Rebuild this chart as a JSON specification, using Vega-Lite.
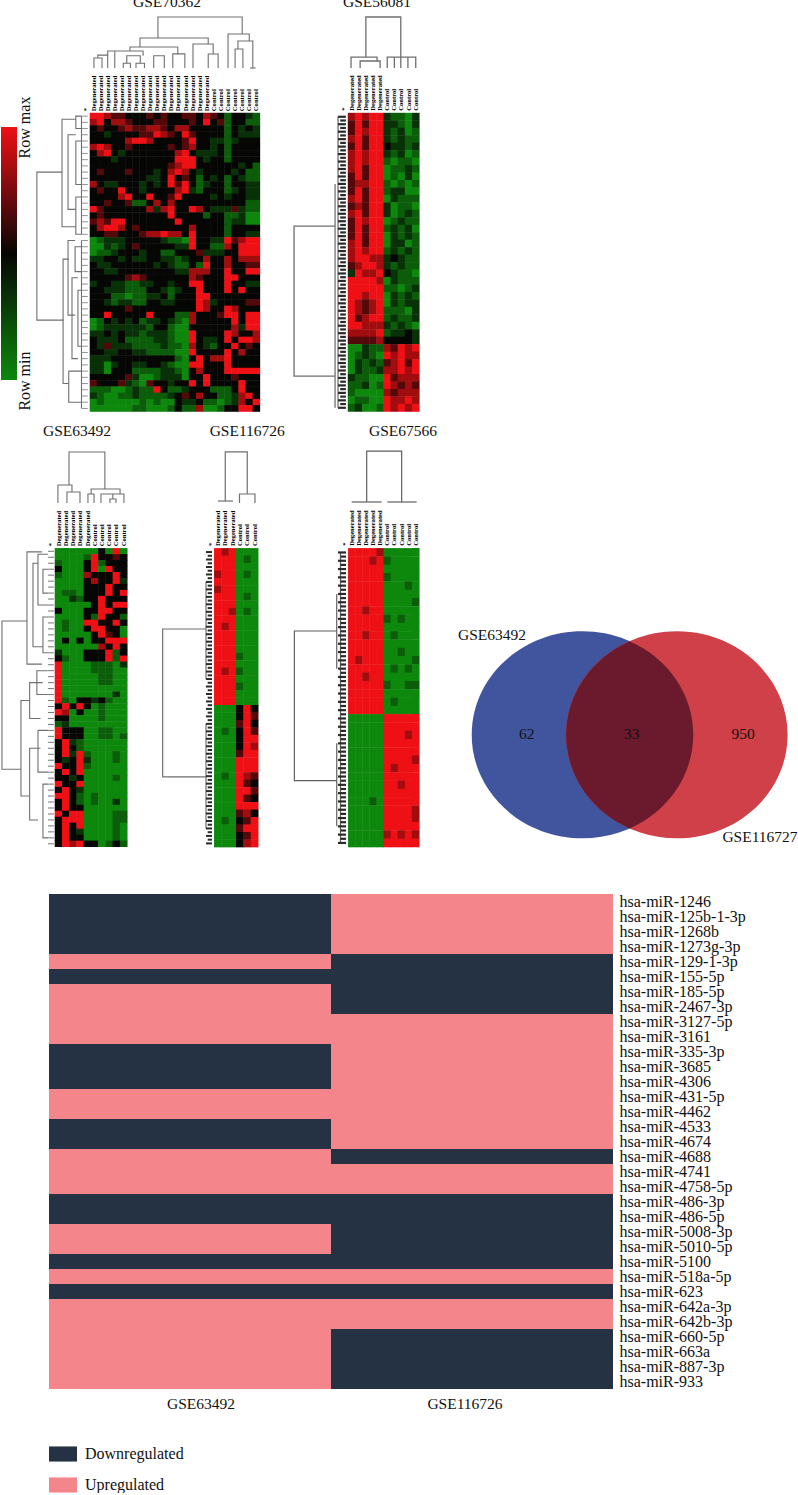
{"$schema":"https://vega.github.io/schema/vega-lite/v6.json","padding":{"left":-1,"top":-1,"right":0,"bottom":0},"background":"white","spacing":0,"resolve":{"scale":{"color":"independent"}},"config":{"view":{"stroke":null}},
"vconcat":[
{"hconcat":[
{"width":280,"height":420,
"encoding":{"x":{"field":"x","type":"quantitative","axis":null,"scale":{"domain":[-12.21,27.34],"nice":false,"zero":false}},"y":{"field":"y","type":"quantitative","axis":null,"scale":{"domain":[-17.83,49.7],"nice":false,"zero":false,"reverse":true}}},
"layer":[
{"data":{"values":[
{"y":1,"v":[6,6,5,4,4,3,3,3,4,3,4,3,3,4,4,3,5,4,3,1,3,3,2,1]},
{"y":2,"v":[5,6,3,5,5,4,3,3,3,4,4,3,3,3,4,3,6,3,4,1,3,3,1,1]},
{"y":3,"v":[3,4,3,3,4,5,4,4,5,5,4,3,5,5,3,3,3,3,3,1,3,2,3,2]},
{"y":4,"v":[3,3,2,3,3,3,3,4,4,6,5,4,3,6,4,3,3,3,3,1,3,2,2,2]},
{"y":5,"v":[3,3,3,3,3,5,6,6,5,3,3,3,3,4,6,3,3,2,2,1,2,3,3,3]},
{"y":6,"v":[5,6,5,3,3,4,3,3,3,3,3,4,3,4,5,3,3,2,3,1,3,3,3,3]},
{"y":7,"v":[3,5,6,3,2,3,3,3,3,3,3,3,5,6,3,2,2,2,3,1,3,3,3,3]},
{"y":8,"v":[3,3,3,2,3,3,3,3,3,3,3,3,6,6,6,3,2,3,3,1,3,3,3,3]},
{"y":9,"v":[3,3,3,3,3,3,3,3,3,3,3,4,5,6,6,3,3,3,3,3,3,2,3,1]},
{"y":10,"v":[3,4,3,3,3,4,3,3,3,2,3,5,6,5,3,2,3,3,3,3,2,3,1,1]},
{"y":11,"v":[3,3,3,3,3,3,3,3,2,2,3,6,3,4,3,1,3,2,3,1,3,2,1,1]},
{"y":12,"v":[5,3,2,2,3,3,3,2,3,2,3,6,4,6,3,1,2,3,3,1,3,3,2,2]},
{"y":13,"v":[3,4,3,3,6,3,3,2,3,3,3,3,5,6,2,1,3,3,3,1,2,3,2,2]},
{"y":14,"v":[3,3,3,3,5,6,3,3,6,3,3,4,6,3,3,3,3,2,3,2,3,3,2,2]},
{"y":15,"v":[3,3,4,3,3,4,1,1,3,5,3,5,3,3,3,3,3,3,3,3,3,3,1,1]},
{"y":16,"v":[6,4,3,3,3,3,3,3,5,2,5,6,3,3,6,5,3,2,2,2,4,2,1,1]},
{"y":17,"v":[3,4,3,3,3,3,3,3,3,3,3,6,3,3,3,3,1,3,3,1,1,2,0,0]},
{"y":18,"v":[4,5,4,6,6,3,3,3,3,3,3,3,6,3,3,3,3,3,3,1,2,2,0,0]},
{"y":19,"v":[3,5,6,6,5,3,4,3,3,3,3,3,3,3,5,3,3,3,3,1,3,3,3,3]},
{"y":20,"v":[3,3,4,4,3,3,3,4,5,5,6,5,5,3,6,3,3,3,3,1,3,3,2,2]},
{"y":21,"v":[0,1,2,2,2,3,3,3,3,3,2,1,1,0,6,3,3,2,2,6,4,5,6,6]},
{"y":22,"v":[0,0,2,1,2,3,4,3,3,3,3,3,2,2,6,3,3,1,1,5,3,6,6,6]},
{"y":23,"v":[0,1,1,2,3,3,3,2,3,3,1,1,3,3,3,4,2,2,2,3,3,6,6,6]},
{"y":24,"v":[2,2,3,3,2,3,2,2,3,3,2,2,1,2,3,3,5,3,3,5,3,5,5,5]},
{"y":25,"v":[3,2,2,3,3,3,3,3,3,2,3,2,1,1,3,1,6,3,3,5,3,3,4,4]},
{"y":26,"v":[3,3,2,2,3,3,3,3,3,3,3,3,2,2,5,5,5,3,3,6,3,3,6,6]},
{"y":27,"v":[3,3,3,3,3,4,5,4,3,3,3,3,3,3,5,4,3,3,3,6,6,3,3,3]},
{"y":28,"v":[2,3,3,2,2,1,1,2,2,3,3,2,3,3,6,6,3,3,3,6,3,3,2,2]},
{"y":29,"v":[3,3,2,2,2,1,1,1,3,3,2,1,2,3,3,6,3,3,3,6,3,6,3,3]},
{"y":30,"v":[3,3,3,1,1,0,1,1,2,2,3,1,3,3,3,6,6,3,3,3,3,3,3,3]},
{"y":31,"v":[3,3,2,1,2,2,1,1,3,3,2,2,3,3,3,6,5,2,3,3,3,3,4,4]},
{"y":32,"v":[3,3,3,3,3,4,3,3,3,3,3,3,3,3,3,6,5,3,3,6,5,3,3,3]},
{"y":33,"v":[3,3,6,3,3,3,3,3,6,3,3,3,1,1,5,3,3,3,4,6,6,3,6,6]},
{"y":34,"v":[0,1,3,2,3,2,3,1,2,2,3,2,1,0,5,3,3,3,3,3,6,3,6,6]},
{"y":35,"v":[0,1,2,2,2,2,2,2,1,3,3,1,0,0,3,3,3,3,3,3,5,2,6,6]},
{"y":36,"v":[2,2,3,2,3,2,2,1,2,2,2,1,0,0,6,3,3,3,3,6,5,3,3,5]},
{"y":37,"v":[3,2,2,2,3,1,1,1,1,2,2,1,0,0,6,3,2,2,3,6,3,6,6,5]},
{"y":38,"v":[3,2,4,2,2,2,1,1,1,1,2,1,1,0,5,3,2,1,3,3,6,3,4,3]},
{"y":39,"v":[3,3,2,2,3,3,2,2,1,1,1,1,0,0,6,3,3,3,3,6,3,5,3,3]},
{"y":40,"v":[2,2,2,3,3,3,3,3,3,3,3,3,1,0,3,6,3,5,5,6,3,3,3,3]},
{"y":41,"v":[2,2,0,2,3,3,2,2,3,3,2,1,0,0,6,6,3,3,3,6,3,3,3,3]},
{"y":42,"v":[2,2,0,3,3,3,1,1,1,1,2,2,1,0,3,5,3,3,3,6,6,6,6,6]},
{"y":43,"v":[3,3,3,3,3,4,2,0,0,1,2,2,2,0,3,3,6,3,3,3,4,3,3,3]},
{"y":44,"v":[4,3,3,3,4,2,1,0,4,3,3,2,3,3,6,3,6,3,3,3,3,6,3,3]},
{"y":45,"v":[1,1,1,0,0,1,2,1,1,6,3,1,1,2,3,3,3,1,1,1,3,6,3,3]},
{"y":46,"v":[2,1,0,0,1,1,2,1,1,1,1,2,3,4,3,5,3,3,1,1,2,5,6,3]},
{"y":47,"v":[0,1,0,0,0,0,0,1,0,1,0,0,3,2,2,3,1,1,0,1,2,5,3,6]},
{"y":48,"v":[0,0,0,0,0,0,1,1,0,0,0,1,3,1,1,5,0,0,1,3,3,6,6,3]}
]},"transform":[{"flatten":["v"]},{"window":[{"op":"row_number","as":"x"}],"groupby":["y"]}],
"mark":{"type":"rect","width":7.6,"height":6.7},
"encoding":{"color":{"field":"v","type":"quantitative","scale":{"domain":[0,3,6],"range":["#0d880d","#060604","#ee1015"],"interpolate":"rgb"},"legend":{"orient":"none","legendX":1,"legendY":128,"gradientLength":253,"gradientThickness":16,"values":[0,6],"labelOpacity":0,"labelFontSize":1,"tickOpacity":0,"title":null,"gradientStrokeWidth":0}}}},
{"data":{"values":[
{"d":1,"x":[10.1,10.1,22,22],"y":[-11.56,-14.93,-14.93,-12.2]},
{"d":2,"x":[7.56,7.56,17.2,17.2],"y":[-10.11,-11.56,-11.56,-10.6]},
{"d":3,"x":[15.05,15.05,17.9,17.9],"y":[-6.73,-10.6,-10.6,-8.99]},
{"d":4,"x":[17.2,17.2,18.6,18.6],"y":[-6.73,-8.99,-8.99,-6.73]},
{"d":5,"x":[6.15,6.15,12.9,12.9],"y":[-9.47,-10.11,-10.11,-9]},
{"d":6,"x":[12.2,12.2,13.9,13.9],"y":[-6.73,-9,-9,-6.73]},
{"d":7,"x":[3,3,8,8],"y":[-8.8,-9.47,-9.47,-8.7]},
{"d":8,"x":[1.06,1.06,2.2,2.2],"y":[-6.73,-8.34,-8.34,-6.73]},
{"d":9,"x":[1.6,1.6,3,3],"y":[-8.34,-8.8,-8.8,-6.73]},
{"d":10,"x":[4,4],"y":[-9.47,-6.73]},
{"d":11,"x":[5.2,5.2,6.2,6.2],"y":[-6.73,-7.5,-7.5,-6.73]},
{"d":12,"x":[7,7,8.2,8.2],"y":[-6.73,-7.5,-7.5,-6.73]},
{"d":13,"x":[5.7,5.7,7.6,7.6],"y":[-7.5,-8.7,-8.7,-7.5]},
{"d":14,"x":[9.5,9.5,11,11],"y":[-6.73,-8.7,-8.7,-6.73]},
{"d":15,"x":[20,20,23,23],"y":[-6.73,-12.2,-12.2,-11.08]},
{"d":16,"x":[21.4,21.4,23.5,23.5],"y":[-9.79,-11.08,-11.08,-6.73]},
{"d":17,"x":[21,21,22.1,22.1],"y":[-6.73,-9.79,-9.79,-6.73]},
{"d":18,"x":[23.1,23.9],"y":[-6.73,-6.73]},
{"d":20,"x":[-3.45,-7,-7,-3.2],"y":[10,10,33.8,33.8]},
{"d":21,"x":[-1.5,-3.45,-3.45,-1.5],"y":[1.5,1.5,18.8,18.8]},
{"d":22,"x":[-1.5,-2.6,-2.6,-1.5],"y":[4,4,16,16]},
{"d":23,"x":[-0.7,-1.5,-1.5,-0.7],"y":[1,1,3,3]},
{"d":24,"x":[-0.7,-1.5,-1.5,-0.7],"y":[5,5,12,12]},
{"d":25,"x":[-0.7,-1.5,-1.5,-0.7],"y":[14,14,20,20]},
{"d":26,"x":[-2.5,-3.3,-3.3,-2.5],"y":[24,24,44,44]},
{"d":27,"x":[-1.6,-2.6,-2.6,-1.6],"y":[21,21,33,33]},
{"d":28,"x":[-1.2,-2.04,-2.04,-1.2],"y":[27,27,40,40]},
{"d":29,"x":[-0.7,-1.6,-1.6,-0.7],"y":[22,22,26,26]},
{"d":30,"x":[-0.7,-1.2,-1.2,-0.7],"y":[29,29,38,38]},
{"d":31,"x":[-0.7,-2.5,-2.5,-0.7],"y":[42,42,47,47]},
{"d":32,"x":[-0.7,-0.7],"y":[1,20]},
{"d":33,"x":[-0.7,-0.7],"y":[21,48]}
]},"transform":[{"flatten":["x","y"]}],"mark":{"type":"line","stroke":"#6f6f6f","strokeWidth":1.1},"encoding":{"detail":{"field":"d"},"order":{"value":null}}},
{"data":{"values":[{"x":-0.7,"x2":0.2,"y":[1,2,3,4,5,6,7,8,9,10,11,12,13,14,15,16,17,18,19,20,21,22,23,24,25,26,27,28,29,30,31,32,33,34,35,36,37,38,39,40,41,42,43,44,45,46,47,48]}]},"transform":[{"flatten":["y"]}],"mark":{"type":"rule","stroke":"#777","strokeWidth":0.8},"encoding":{"x2":{"field":"x2"}}},
{"data":{"values":[{"t":"Degenerated","y":0.2,"x":[1,2,3,4,5,6,7,8,9,10,11,12,13,14,15,16,17]},{"t":"Control","y":0.2,"x":[18,19,20,21,22,23,24]},{"t":"*","y":0.2,"x":[0]}]},"transform":[{"flatten":["x"]}],"mark":{"type":"text","angle":270,"align":"left","baseline":"middle","font":"Liberation Serif","fontWeight":"bold","fontSize":6.6,"color":"#000"},"encoding":{"text":{"field":"t"}}},
{"data":{"values":[{"t":"GSE70362","x":11.38,"y":-17.35}]},"mark":{"type":"text","clip":true,"font":"Liberation Serif","fontSize":15.5,"color":"#111"},"encoding":{"text":{"field":"t"}}},
{"data":{"values":[{"t":"Row max","x":-8.68,"y":2.83},{"t":"Row min","x":-8.68,"y":43.6}]},"mark":{"type":"text","angle":270,"font":"Liberation Serif","fontSize":16,"color":"#111"},"encoding":{"text":{"field":"t"}}}
]},
{"width":160,"height":420,
"encoding":{"x":{"field":"x","type":"quantitative","axis":null,"scale":{"domain":[-9.04,13.4],"nice":false,"zero":false}},"y":{"field":"y","type":"quantitative","axis":null,"scale":{"domain":[-14.78,41.5],"nice":false,"zero":false,"reverse":true}}},
"layer":[
{"data":{"values":[
{"y":1,"v":[5,6,5,6,6,2,1,1,0,2]},{"y":2,"v":[4,6,4,6,6,2,2,1,0,2]},{"y":3,"v":[4,6,5,6,6,2,1,2,0,1]},{"y":4,"v":[5,6,4,6,6,2,1,2,1,1]},{"y":5,"v":[4,6,4,6,6,3,2,2,1,2]},
{"y":6,"v":[5,6,5,6,6,2,1,2,0,1]},{"y":7,"v":[5,6,5,6,6,1,0,1,1,0]},{"y":8,"v":[5,6,4,6,6,0,1,1,2,1]},{"y":9,"v":[4,6,4,6,6,0,1,0,2,0]},{"y":10,"v":[4,5,5,6,6,1,0,1,0,1]},
{"y":11,"v":[4,6,4,6,6,1,2,2,0,0]},{"y":12,"v":[5,6,4,6,6,0,2,1,1,1]},{"y":13,"v":[4,5,4,6,6,2,0,1,1,0]},{"y":14,"v":[5,6,4,6,6,2,0,1,2,1]},{"y":15,"v":[4,6,5,6,6,0,1,2,1,1]},
{"y":16,"v":[4,6,4,6,6,1,2,1,2,0]},{"y":17,"v":[4,6,4,6,6,0,2,1,2,1]},{"y":18,"v":[5,6,4,6,6,0,2,2,0,1]},{"y":19,"v":[5,6,5,6,6,1,2,1,2,1]},{"y":20,"v":[5,6,6,5,5,2,3,2,1,1]},
{"y":21,"v":[4,5,6,6,5,2,1,2,1,1]},{"y":22,"v":[2,6,5,5,6,3,2,1,1,0]},{"y":23,"v":[6,6,6,6,5,0,2,1,1,1]},{"y":24,"v":[6,6,6,6,6,1,1,0,1,2]},{"y":25,"v":[6,6,5,6,6,0,2,1,2,1]},
{"y":26,"v":[6,5,4,5,6,0,2,1,2,2]},{"y":27,"v":[6,5,4,5,6,1,1,1,0,2]},{"y":28,"v":[6,4,5,6,6,1,2,1,1,2]},{"y":29,"v":[6,6,5,5,5,2,1,2,1,0]},{"y":30,"v":[5,5,5,5,6,1,2,2,3,2]},
{"y":31,"v":[4,4,4,4,5,3,3,3,3,2]},{"y":32,"v":[0,0,2,1,1,5,4,6,5,6]},{"y":33,"v":[0,1,2,1,0,6,5,6,5,5]},{"y":34,"v":[0,2,1,2,1,4,5,6,4,6]},{"y":35,"v":[0,2,1,1,2,5,5,6,5,6]},
{"y":36,"v":[2,1,1,0,0,6,4,5,5,5]},{"y":37,"v":[1,1,2,0,1,6,5,4,5,4]},{"y":38,"v":[1,0,0,0,0,5,4,5,5,5]},{"y":39,"v":[0,1,1,0,0,6,5,5,6,5]},{"y":40,"v":[1,2,0,0,1,6,5,6,5,6]}
]},"transform":[{"flatten":["v"]},{"window":[{"op":"row_number","as":"x"}],"groupby":["y"]}],
"mark":{"type":"rect","width":7.6,"height":7.9},
"encoding":{"color":{"field":"v","type":"quantitative","scale":{"domain":[0,3,6],"range":["#0d880d","#060604","#ee1015"],"interpolate":"rgb"},"legend":null}}},
{"data":{"values":[
{"d":1,"x":[3,3,7.9,7.9],"y":[-7,-12.37,-12.37,-7]},
{"d":2,"x":[0.92,0.92,4.57,4.57],"y":[-5.53,-7,-7,-6.47]},
{"d":3,"x":[2.2,2.2,5,5],"y":[-5.53,-6.47,-6.47,-5.53]},
{"d":4,"x":[6,6,10,10],"y":[-5.53,-7,-7,-5.53]},
{"d":5,"x":[7,7],"y":[-7,-5.53]},{"d":6,"x":[7.9,7.9],"y":[-7,-5.53]},{"d":7,"x":[8.9,8.9],"y":[-7,-5.53]},
{"d":10,"x":[-1.32,-7.07,-7.07,-1.32],"y":[15.65,15.65,35.75,35.75]},
{"d":11,"x":[-1.32,-1.32],"y":[10,40]},{"d":12,"x":[-0.9,-0.9],"y":[1,40]}
]},"transform":[{"flatten":["x","y"]}],"mark":{"type":"line","stroke":"#6f6f6f","strokeWidth":1.3},"encoding":{"detail":{"field":"d"},"order":{"value":null}}},
{"data":{"values":[{"x":-0.9,"x2":0.2,"y":[1,2,3,4,5,6,7,8,9,10,11,12,13,14,15,16,17,18,19,20,21,22,23,24,25,26,27,28,29,30,31,32,33,34,35,36,37,38,39,40]},{"x":-0.6,"x2":0.2,"y":[1.5,2.5,3.5,4.5,5.5,6.5,7.5,8.5,9.5,10.5,11.5,12.5,13.5,14.5,15.5,16.5,17.5,18.5,19.5,20.5,21.5,22.5,23.5,24.5,25.5,26.5,27.5,28.5,29.5,30.5,31.5,32.5,33.5,34.5,35.5,36.5,37.5,38.5,39.5]}]},"transform":[{"flatten":["y"]}],"mark":{"type":"rule","stroke":"#2a2a2a","strokeWidth":2.2},"encoding":{"x2":{"field":"x2"}}},
{"data":{"values":[{"t":"Degenerated","y":0.2,"x":[1,2,3,4,5]},{"t":"Control","y":0.2,"x":[6,7,8,9,10]},{"t":"*","y":0.2,"x":[0]}]},"transform":[{"flatten":["x"]}],"mark":{"type":"text","angle":270,"align":"left","baseline":"middle","font":"Liberation Serif","fontWeight":"bold","fontSize":6.6,"color":"#000"},"encoding":{"text":{"field":"t"}}},
{"data":{"values":[{"t":"GSE56081","x":4.57,"y":-14.38}]},"mark":{"type":"text","clip":true,"font":"Liberation Serif","fontSize":15.5,"color":"#111"},"encoding":{"text":{"field":"t"}}}
]}
],"spacing":0,"bounds":"flush","resolve":{"scale":{"color":"independent"}}},
{"hconcat":[
{"width":150,"height":474,
"encoding":{"x":{"field":"x","type":"quantitative","axis":null,"scale":{"domain":[-7.1,13.64],"nice":false,"zero":false}},"y":{"field":"y","type":"quantitative","axis":null,"scale":{"domain":[-21.16,58.24],"nice":false,"zero":false,"reverse":true}}},
"layer":[
{"data":{"values":[
{"y":1,"v":[0,0,0,0,0,0,3,0,6,0]},{"y":2,"v":[0,0,0,0,1,6,3,3,4,3]},{"y":3,"v":[1,0,0,0,3,6,1,3,3,3]},{"y":4,"v":[3,0,0,0,3,6,0,6,3,3]},{"y":5,"v":[1,0,0,0,5,3,3,3,6,3]},
{"y":6,"v":[0,0,0,0,3,5,3,3,6,2]},{"y":7,"v":[0,0,0,0,3,3,3,6,3,3]},{"y":8,"v":[0,1,1,0,3,3,3,6,3,6]},{"y":9,"v":[0,0,2,1,3,3,6,3,3,3]},{"y":10,"v":[0,0,0,0,0,3,6,3,6,6]},
{"y":11,"v":[3,0,0,0,3,3,6,6,3,3]},{"y":12,"v":[0,0,0,0,3,1,6,3,3,1]},{"y":13,"v":[0,1,0,0,6,6,3,3,6,3]},{"y":14,"v":[0,1,0,0,3,6,6,3,3,0]},{"y":15,"v":[0,0,0,0,0,3,6,4,3,0]},
{"y":16,"v":[0,3,0,3,0,3,3,6,6,6]},{"y":17,"v":[0,0,0,0,0,0,5,3,6,3]},{"y":18,"v":[2,0,0,0,3,3,3,6,1,3]},{"y":19,"v":[3,1,0,0,3,3,3,6,1,6]},{"y":20,"v":[6,0,0,0,0,1,1,1,0,2]},
{"y":21,"v":[6,0,0,0,0,1,1,1,0,0]},{"y":22,"v":[6,0,0,0,0,0,1,1,0,0]},{"y":23,"v":[6,0,0,0,0,0,1,1,0,0]},{"y":24,"v":[6,0,0,0,0,0,0,0,0,0]},{"y":25,"v":[6,0,0,0,0,0,0,0,2,0]},
{"y":26,"v":[6,1,0,3,3,2,3,1,0,0]},{"y":27,"v":[3,6,3,6,3,0,1,0,0,0]},{"y":28,"v":[6,5,0,3,0,0,1,0,0,0]},{"y":29,"v":[3,3,0,0,0,0,1,0,0,0]},{"y":30,"v":[1,2,0,0,0,0,0,0,0,0]},
{"y":31,"v":[6,3,3,3,0,0,1,1,0,0]},{"y":32,"v":[6,3,3,3,0,0,1,1,0,1]},{"y":33,"v":[3,6,2,1,0,0,0,0,0,0]},{"y":34,"v":[3,6,3,1,0,0,0,0,0,0]},{"y":35,"v":[3,6,2,6,1,0,0,0,1,0]},
{"y":36,"v":[3,2,3,6,2,0,0,0,1,0]},{"y":37,"v":[6,3,3,6,1,0,0,0,0,0]},{"y":38,"v":[3,6,3,6,0,0,0,0,0,0]},{"y":39,"v":[3,3,2,3,0,0,0,0,1,0]},{"y":40,"v":[6,3,3,6,0,0,0,0,0,0]},
{"y":41,"v":[3,6,3,2,0,0,0,0,0,0]},{"y":42,"v":[6,6,3,1,0,1,0,0,0,0]},{"y":43,"v":[3,6,3,1,0,1,0,0,2,0]},{"y":44,"v":[3,6,3,3,0,0,0,0,0,0]},{"y":45,"v":[6,3,6,6,0,0,0,0,1,1]},
{"y":46,"v":[3,6,6,6,0,0,0,0,1,1]},{"y":47,"v":[3,6,3,6,0,0,0,0,1,0]},{"y":48,"v":[3,6,3,2,0,0,0,0,1,0]},{"y":49,"v":[3,6,3,3,0,0,0,0,1,0]},{"y":50,"v":[3,6,5,6,3,3,0,1,3,1]}
]},"transform":[{"flatten":["v"]},{"window":[{"op":"row_number","as":"x"}],"groupby":["y"]}],
"mark":{"type":"rect","width":7.7,"height":6.4},
"encoding":{"color":{"field":"v","type":"quantitative","scale":{"domain":[0,3,6],"range":["#0d880d","#060604","#ee1015"],"interpolate":"rgb"},"legend":null}}},
{"data":{"values":[
{"d":1,"x":[2.44,2.44,7.4,7.4],"y":[-10.1,-15.63,-15.63,-9.43]},
{"d":2,"x":[0.91,0.91,2.85,2.85],"y":[-7.09,-10.1,-10.1,-8.93]},
{"d":3,"x":[2.16,2.16,3.96,3.96],"y":[-7.09,-8.93,-8.93,-7.09]},
{"d":4,"x":[5.5,5.5,9.5,9.5],"y":[-8.6,-9.43,-9.43,-8.6]},
{"d":5,"x":[5.06,5.06,5.9,5.9],"y":[-7.09,-8.6,-8.6,-7.09]},
{"d":6,"x":[6.86,6.86,8.5,8.5],"y":[-7.09,-8.6,-8.6,-7.76]},
{"d":7,"x":[8.1,8.1,8.94,8.94],"y":[-7.09,-7.76,-7.76,-7.09]},
{"d":8,"x":[10.04,10.04,8.5,8.5],"y":[-7.09,-8.6,-8.6,-8.6]},
{"d":10,"x":[-3.37,-6.83,-6.83,-4.2],"y":[12.68,12.68,37.5,37.5]},
{"d":11,"x":[-1.3,-3.37,-3.37,-1.3],"y":[1.1,1.1,19.9,19.9]},
{"d":12,"x":[-1.85,-2.54,-2.54,-1.16],"y":[3,3,17,17]},
{"d":13,"x":[-0.47,-1.85,-1.85,-0.47],"y":[1.5,1.5,10,10]},
{"d":14,"x":[-0.47,-1.16,-1.16,-0.47],"y":[4,4,8,8]},
{"d":15,"x":[-0.47,-1.16,-1.16,-0.47],"y":[12,12,18,18]},
{"d":16,"x":[-3,-4.2,-4.2,-3],"y":[26,26,42,42]},
{"d":17,"x":[-1.2,-3,-3,-1.5],"y":[23,23,29,29]},
{"d":18,"x":[-0.5,-2,-2,-0.5],"y":[21,21,25,25]},
{"d":19,"x":[-1.5,-3,-3,-1.85],"y":[34,34,46,46]},
{"d":20,"x":[-0.47,-1.85,-1.85,-0.47],"y":[31,31,38,38]},
{"d":21,"x":[-0.47,-1.16,-1.16,-0.47],"y":[40,40,49,49]}
]},"transform":[{"flatten":["x","y"]}],"mark":{"type":"line","stroke":"#6f6f6f","strokeWidth":1.1},"encoding":{"detail":{"field":"d"},"order":{"value":null}}},
{"data":{"values":[{"x":-0.47,"x2":0.36,"y":[1,2,3,4,5,6,7,8,9,10,11,12,13,14,15,16,17,18,19,20,21,22,23,24,25,26,27,28,29,30,31,32,33,34,35,36,37,38,39,40,41,42,43,44,45,46,47,48,49,50]}]},"transform":[{"flatten":["y"]}],"mark":{"type":"rule","stroke":"#666","strokeWidth":0.9},"encoding":{"x2":{"field":"x2"}}},
{"data":{"values":[{"t":"Degenerated","y":0.17,"x":[1,2,3,4,5]},{"t":"Control","y":0.17,"x":[6,7,8,9,10]},{"t":"*","y":0.17,"x":[0]}]},"transform":[{"flatten":["x"]}],"mark":{"type":"text","angle":270,"align":"left","baseline":"middle","font":"Liberation Serif","fontWeight":"bold","fontSize":6.6,"color":"#000"},"encoding":{"text":{"field":"t"}}},
{"data":{"values":[{"t":"GSE63492","x":3.54,"y":-19.15}]},"mark":{"type":"text","font":"Liberation Serif","fontSize":15.5,"color":"#111"},"encoding":{"text":{"field":"t"}}}
]},
{"width":135,"height":474,
"encoding":{"x":{"field":"x","type":"quantitative","axis":null,"scale":{"domain":[-8.27,10.15],"nice":false,"zero":false}},"y":{"field":"y","type":"quantitative","axis":null,"scale":{"domain":[-16.81,46.64],"nice":false,"zero":false,"reverse":true}}},
"layer":[
{"data":{"values":[
{"y":1,"v":[6,5,6,0,0,0]},{"y":2,"v":[6,6,6,0,1,0]},{"y":3,"v":[6,6,6,0,0,0]},{"y":4,"v":[5,6,6,0,1,0]},{"y":5,"v":[6,6,6,0,0,0]},{"y":6,"v":[5,6,6,0,0,0]},{"y":7,"v":[6,6,6,0,1,0]},{"y":8,"v":[6,6,6,0,0,0]},{"y":9,"v":[6,6,5,0,1,0]},{"y":10,"v":[6,6,6,0,0,0]},
{"y":11,"v":[6,5,6,0,0,0]},{"y":12,"v":[6,6,6,0,0,0]},{"y":13,"v":[6,6,6,0,0,0]},{"y":14,"v":[6,6,6,0,0,0]},{"y":15,"v":[6,6,6,1,0,0]},{"y":16,"v":[6,6,6,0,0,0]},{"y":17,"v":[6,5,6,1,0,0]},{"y":18,"v":[6,6,6,0,0,0]},{"y":19,"v":[6,6,6,1,0,0]},{"y":20,"v":[6,6,6,0,0,0]},{"y":21,"v":[6,6,6,0,0,0]},
{"y":22,"v":[0,0,0,3,6,3]},{"y":23,"v":[0,0,0,3,6,4]},{"y":24,"v":[0,0,0,4,6,3]},{"y":25,"v":[0,1,0,3,6,4]},{"y":26,"v":[0,0,0,3,6,6]},{"y":27,"v":[0,0,0,3,6,5]},{"y":28,"v":[0,0,0,4,6,6]},{"y":29,"v":[0,0,0,6,6,6]},{"y":30,"v":[0,0,0,6,6,6]},{"y":31,"v":[0,1,0,6,5,4]},
{"y":32,"v":[0,0,0,6,4,3]},{"y":33,"v":[0,0,0,6,6,4]},{"y":34,"v":[0,0,0,6,4,3]},{"y":35,"v":[0,0,0,6,6,6]},{"y":36,"v":[0,0,0,4,5,3]},{"y":37,"v":[0,1,0,3,4,6]},{"y":38,"v":[0,0,0,4,6,6]},{"y":39,"v":[0,0,0,3,4,6]},{"y":40,"v":[0,0,0,3,5,6]}
]},"transform":[{"flatten":["v"]},{"window":[{"op":"row_number","as":"x"}],"groupby":["y"]}],
"mark":{"type":"rect","width":7.8,"height":7.9},
"encoding":{"color":{"field":"v","type":"quantitative","scale":{"domain":[0,3,6],"range":["#0d880d","#060604","#ee1015"],"interpolate":"rgb"},"legend":null}}},
{"data":{"values":[
{"d":1,"x":[2,2,5,5],"y":[-5.83,-12.4,-12.4,-6.77]},
{"d":2,"x":[1,3.05],"y":[-5.83,-5.83]},
{"d":3,"x":[3.94,3.94,6.05,6.05],"y":[-5.56,-6.77,-6.77,-5.56]},
{"d":10,"x":[-0.63,-6.54,-6.54,-0.63],"y":[11.3,11.3,31.1,31.1]},
{"d":11,"x":[-0.63,-0.63],"y":[5,18]},{"d":12,"x":[-0.63,-0.63],"y":[24,38]}
]},"transform":[{"flatten":["x","y"]}],"mark":{"type":"line","stroke":"#6f6f6f","strokeWidth":1.2},"encoding":{"detail":{"field":"d"},"order":{"value":null}}},
{"data":{"values":[{"x":-0.63,"x2":0.19,"y":[1,2,3,4,5,6,7,8,9,10,11,12,13,14,15,16,17,18,19,20,21,22,23,24,25,26,27,28,29,30,31,32,33,34,35,36,37,38,39,40]},{"x":-0.4,"x2":0.19,"y":[1.5,2.5,3.5,4.5,5.5,6.5,7.5,8.5,9.5,10.5,11.5,12.5,13.5,14.5,15.5,16.5,17.5,18.5,19.5,20.5,21.5,22.5,23.5,24.5,25.5,26.5,27.5,28.5,29.5,30.5,31.5,32.5,33.5,34.5,35.5,36.5,37.5,38.5,39.5]}]},"transform":[{"flatten":["y"]}],"mark":{"type":"rule","stroke":"#2a2a2a","strokeWidth":2},"encoding":{"x2":{"field":"x2"}}},
{"data":{"values":[{"t":"Degenerated","y":0.2,"x":[1,2,3]},{"t":"Control","y":0.2,"x":[4,5,6]},{"t":"*","y":0.2,"x":[0]}]},"transform":[{"flatten":["x"]}],"mark":{"type":"text","angle":270,"align":"left","baseline":"middle","font":"Liberation Serif","fontWeight":"bold","fontSize":6.6,"color":"#000"},"encoding":{"text":{"field":"t"}}},
{"data":{"values":[{"t":"GSE116726","x":5,"y":-15.2}]},"mark":{"type":"text","font":"Liberation Serif","fontSize":15.5,"color":"#111"},"encoding":{"text":{"field":"t"}}}
]},
{"width":155,"height":474,
"encoding":{"x":{"field":"x","type":"quantitative","axis":null,"scale":{"domain":[-8.42,13.42],"nice":false,"zero":false}},"y":{"field":"y","type":"quantitative","axis":null,"scale":{"domain":[-15.08,42.03],"nice":false,"zero":false,"reverse":true}}},
"layer":[
{"data":{"values":[
{"y":1,"v":[6,6,6,6,5,0,0,0,0,0]},{"y":2,"v":[6,6,6,5,6,1,0,0,0,0]},{"y":3,"v":[6,6,6,6,6,0,0,0,0,0]},{"y":4,"v":[6,6,6,6,6,1,0,0,0,0]},{"y":5,"v":[6,6,6,6,6,0,0,0,1,0]},{"y":6,"v":[6,6,6,6,6,0,0,0,0,0]},{"y":7,"v":[6,6,6,6,6,0,0,0,0,1]},{"y":8,"v":[6,6,5,6,6,0,0,0,0,0]},{"y":9,"v":[6,6,6,6,6,1,0,1,0,0]},{"y":10,"v":[6,6,6,6,6,0,0,0,0,0]},
{"y":11,"v":[6,6,5,6,6,0,1,0,0,0]},{"y":12,"v":[6,6,6,6,6,0,0,0,0,0]},{"y":13,"v":[6,6,6,6,6,0,0,1,0,0]},{"y":14,"v":[6,5,6,6,6,0,0,0,0,1]},{"y":15,"v":[6,6,6,6,6,0,1,0,1,0]},{"y":16,"v":[6,6,5,6,6,0,0,0,0,0]},{"y":17,"v":[6,6,6,6,6,1,0,0,1,1]},{"y":18,"v":[6,6,6,6,6,0,0,0,0,0]},{"y":19,"v":[6,6,6,6,6,0,1,0,0,0]},{"y":20,"v":[6,6,6,6,6,0,0,0,0,0]},
{"y":21,"v":[0,0,0,0,0,6,6,6,6,6]},{"y":22,"v":[0,0,0,0,0,6,6,6,6,6]},{"y":23,"v":[0,0,0,0,0,6,6,6,5,6]},{"y":24,"v":[0,0,0,0,0,6,6,6,6,6]},{"y":25,"v":[0,0,0,0,0,6,6,6,6,6]},{"y":26,"v":[0,0,0,0,0,6,6,6,6,5]},{"y":27,"v":[0,0,0,0,0,6,5,6,6,6]},{"y":28,"v":[0,0,0,0,0,6,6,6,6,6]},{"y":29,"v":[0,0,0,0,0,6,6,5,6,6]},{"y":30,"v":[0,0,0,0,0,6,6,6,6,6]},
{"y":31,"v":[0,0,0,1,0,6,6,6,6,6]},{"y":32,"v":[0,0,0,0,0,6,6,6,6,5]},{"y":33,"v":[0,0,0,0,0,6,6,6,6,5]},{"y":34,"v":[0,0,0,0,0,6,6,6,6,6]},{"y":35,"v":[0,0,0,0,0,5,6,5,6,5]},{"y":36,"v":[0,0,0,0,0,6,6,6,6,6]}
]},"transform":[{"flatten":["v"]},{"window":[{"op":"row_number","as":"x"}],"groupby":["y"]}],
"mark":{"type":"rect","width":7.6,"height":8.7},
"encoding":{"color":{"field":"v","type":"quantitative","scale":{"domain":[0,3,6],"range":["#0d880d","#060604","#ee1015"],"interpolate":"rgb"},"legend":null}}},
{"data":{"values":[
{"d":1,"x":[3.09,3.09,8.02,8.02],"y":[-5.08,-11.22,-11.22,-5.08]},
{"d":2,"x":[0.98,5.2],"y":[-5.08,-5.08]},
{"d":3,"x":[6,10.13],"y":[-5.08,-5.08]},
{"d":10,"x":[-1.13,-7.1,-7.1,-1.13],"y":[10.46,10.46,28.5,28.5]},
{"d":11,"x":[-1.13,-1.13],"y":[6,15]},{"d":12,"x":[-1.13,-1.13],"y":[24,34]},{"d":13,"x":[-0.6,-0.6],"y":[1,36]}
]},"transform":[{"flatten":["x","y"]}],"mark":{"type":"line","stroke":"#5f5f5f","strokeWidth":1.2},"encoding":{"detail":{"field":"d"},"order":{"value":null}}},
{"data":{"values":[{"x":-0.95,"x2":0.18,"y":[1,2,3,4,5,6,7,8,9,10,11,12,13,14,15,16,17,18,19,20,21,22,23,24,25,26,27,28,29,30,31,32,33,34,35,36]},{"x":-0.6,"x2":0.18,"y":[1.5,2.5,3.5,4.5,5.5,6.5,7.5,8.5,9.5,10.5,11.5,12.5,13.5,14.5,15.5,16.5,17.5,18.5,19.5,20.5,21.5,22.5,23.5,24.5,25.5,26.5,27.5,28.5,29.5,30.5,31.5,32.5,33.5,34.5,35.5]}]},"transform":[{"flatten":["y"]}],"mark":{"type":"rule","stroke":"#2a2a2a","strokeWidth":2.2},"encoding":{"x2":{"field":"x2"}}},
{"data":{"values":[{"t":"Degenerated","y":0.2,"x":[1,2,3,4,5]},{"t":"Control","y":0.2,"x":[6,7,8,9,10]},{"t":"*","y":0.2,"x":[0]}]},"transform":[{"flatten":["x"]}],"mark":{"type":"text","angle":270,"align":"left","baseline":"middle","font":"Liberation Serif","fontWeight":"bold","fontSize":6.6,"color":"#000"},"encoding":{"text":{"field":"t"}}},
{"data":{"values":[{"t":"GSE67566","x":8.2,"y":-13.63}]},"mark":{"type":"text","font":"Liberation Serif","fontSize":15.5,"color":"#111"},"encoding":{"text":{"field":"t"}}}
]},
{"width":358,"height":474,
"encoding":{"x":{"field":"x","type":"quantitative","axis":null,"scale":{"domain":[0,3.58],"nice":false,"zero":false}},"y":{"field":"y","type":"quantitative","axis":null,"scale":{"domain":[0,4.74],"nice":false,"zero":false,"reverse":true}}},
"layer":[
{"data":{"values":[{"set":"GSE63492","x":1.425,"y":3.158}]},"mark":{"type":"point","filled":true,"opacity":1,"size":49100,"shape":"M-1,0A1,0.934,0,1,1,1,0A1,0.934,0,1,1,-1,0Z","fill":"#41559f"}},
{"data":{"values":[{"set":"GSE116727","x":2.368,"y":3.158}]},"mark":{"type":"point","filled":true,"opacity":1,"size":49100,"shape":"M-1,0A1,0.934,0,1,1,1,0A1,0.934,0,1,1,-1,0Z","fill":"#cf4048"}},
{"data":{"values":[{"set":"both","x":1.8965,"y":3.158}]},"mark":{"type":"point","filled":true,"opacity":1,"size":49100,"shape":"M0,-0.845A1,0.934,0,0,1,0,0.845A1,0.934,0,0,1,0,-0.845Z","fill":"#6a1a2c"}},
{"data":{"values":[{"t":"62","x":0.867,"y":3.15},{"t":"33","x":1.917,"y":3.15},{"t":"950","x":3.03,"y":3.15},{"t":"GSE63492","x":0.52,"y":2.16},{"t":"GSE116727","x":3.2,"y":4.18}]},"mark":{"type":"text","font":"Liberation Serif","fontSize":15.5,"color":"#111"},"encoding":{"text":{"field":"t"}}}
]}
],"spacing":0,"bounds":"flush","resolve":{"scale":{"color":"independent"}}},
{"hconcat":[
{"width":49,"height":495,"data":{"values":[{"a":1}]},"mark":{"type":"point","opacity":0},"encoding":{}},
{"width":564,"height":495,
"data":{"values":[
{"miR":"hsa-miR-1246","set":["GSE63492","GSE116726"],"dir":["Downregulated","Upregulated"]},
{"miR":"hsa-miR-125b-1-3p","set":["GSE63492","GSE116726"],"dir":["Downregulated","Upregulated"]},
{"miR":"hsa-miR-1268b","set":["GSE63492","GSE116726"],"dir":["Downregulated","Upregulated"]},
{"miR":"hsa-miR-1273g-3p","set":["GSE63492","GSE116726"],"dir":["Downregulated","Upregulated"]},
{"miR":"hsa-miR-129-1-3p","set":["GSE63492","GSE116726"],"dir":["Upregulated","Downregulated"]},
{"miR":"hsa-miR-155-5p","set":["GSE63492","GSE116726"],"dir":["Downregulated","Downregulated"]},
{"miR":"hsa-miR-185-5p","set":["GSE63492","GSE116726"],"dir":["Upregulated","Downregulated"]},
{"miR":"hsa-miR-2467-3p","set":["GSE63492","GSE116726"],"dir":["Upregulated","Downregulated"]},
{"miR":"hsa-miR-3127-5p","set":["GSE63492","GSE116726"],"dir":["Upregulated","Upregulated"]},
{"miR":"hsa-miR-3161","set":["GSE63492","GSE116726"],"dir":["Upregulated","Upregulated"]},
{"miR":"hsa-miR-335-3p","set":["GSE63492","GSE116726"],"dir":["Downregulated","Upregulated"]},
{"miR":"hsa-miR-3685","set":["GSE63492","GSE116726"],"dir":["Downregulated","Upregulated"]},
{"miR":"hsa-miR-4306","set":["GSE63492","GSE116726"],"dir":["Downregulated","Upregulated"]},
{"miR":"hsa-miR-431-5p","set":["GSE63492","GSE116726"],"dir":["Upregulated","Upregulated"]},
{"miR":"hsa-miR-4462","set":["GSE63492","GSE116726"],"dir":["Upregulated","Upregulated"]},
{"miR":"hsa-miR-4533","set":["GSE63492","GSE116726"],"dir":["Downregulated","Upregulated"]},
{"miR":"hsa-miR-4674","set":["GSE63492","GSE116726"],"dir":["Downregulated","Upregulated"]},
{"miR":"hsa-miR-4688","set":["GSE63492","GSE116726"],"dir":["Upregulated","Downregulated"]},
{"miR":"hsa-miR-4741","set":["GSE63492","GSE116726"],"dir":["Upregulated","Upregulated"]},
{"miR":"hsa-miR-4758-5p","set":["GSE63492","GSE116726"],"dir":["Upregulated","Upregulated"]},
{"miR":"hsa-miR-486-3p","set":["GSE63492","GSE116726"],"dir":["Downregulated","Downregulated"]},
{"miR":"hsa-miR-486-5p","set":["GSE63492","GSE116726"],"dir":["Downregulated","Downregulated"]},
{"miR":"hsa-miR-5008-3p","set":["GSE63492","GSE116726"],"dir":["Upregulated","Downregulated"]},
{"miR":"hsa-miR-5010-5p","set":["GSE63492","GSE116726"],"dir":["Upregulated","Downregulated"]},
{"miR":"hsa-miR-5100","set":["GSE63492","GSE116726"],"dir":["Downregulated","Downregulated"]},
{"miR":"hsa-miR-518a-5p","set":["GSE63492","GSE116726"],"dir":["Upregulated","Upregulated"]},
{"miR":"hsa-miR-623","set":["GSE63492","GSE116726"],"dir":["Downregulated","Downregulated"]},
{"miR":"hsa-miR-642a-3p","set":["GSE63492","GSE116726"],"dir":["Upregulated","Upregulated"]},
{"miR":"hsa-miR-642b-3p","set":["GSE63492","GSE116726"],"dir":["Upregulated","Upregulated"]},
{"miR":"hsa-miR-660-5p","set":["GSE63492","GSE116726"],"dir":["Upregulated","Downregulated"]},
{"miR":"hsa-miR-663a","set":["GSE63492","GSE116726"],"dir":["Upregulated","Downregulated"]},
{"miR":"hsa-miR-887-3p","set":["GSE63492","GSE116726"],"dir":["Upregulated","Downregulated"]},
{"miR":"hsa-miR-933","set":["GSE63492","GSE116726"],"dir":["Upregulated","Downregulated"]}
]},
"transform":[{"flatten":["set","dir"]}],
"mark":{"type":"rect"},
"encoding":{
"x":{"field":"set","type":"nominal","sort":["GSE63492","GSE116726"],"scale":{"paddingInner":0,"paddingOuter":0},"axis":{"title":null,"labelAngle":0,"ticks":false,"domain":false,"labelFont":"Liberation Serif","labelFontSize":15.5,"labelColor":"#111","labelPadding":7,"labelOffset":{"expr":"datum.label=='GSE63492'?11:-7"}}},
"y":{"field":"miR","type":"nominal","sort":null,"scale":{"paddingInner":0,"paddingOuter":0},"axis":{"title":null,"orient":"right","ticks":false,"domain":false,"labelFont":"Liberation Serif","labelFontSize":16,"labelColor":"#111","labelPadding":6,"labelOverlap":false,"labelLimit":300}},
"color":{"field":"dir","type":"nominal","scale":{"domain":["Downregulated","Upregulated"],"range":["#253244","#f4858a"]},"legend":{"orient":"none","legendX":0,"legendY":546,"title":null,"symbolType":"M-1,-0.54H1V0.54H-1Z","symbolSize":784,"symbolStrokeWidth":0,"symbolOpacity":1,"labelFont":"Liberation Serif","labelFontSize":16,"labelColor":"#111","labelOffset":8,"rowPadding":9}}}}
],"spacing":0,"bounds":"flush","resolve":{"scale":{"color":"independent"}}}
]}
